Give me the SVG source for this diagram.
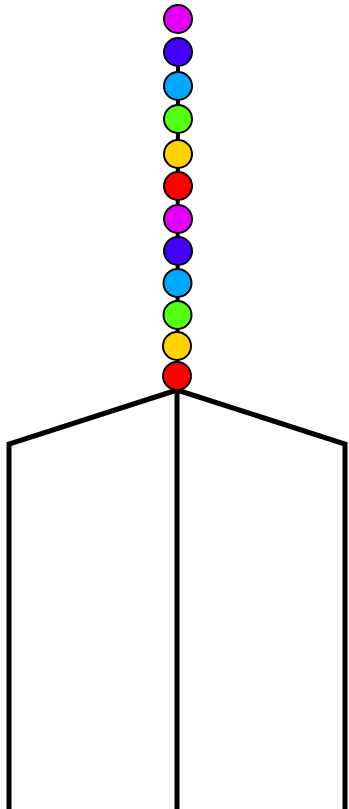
<svg xmlns="http://www.w3.org/2000/svg" width="349" height="809" viewBox="0 0 349 809">
<style>
.n{stroke:#000;stroke-width:2}
.c{stroke:#000;fill:none;stroke-linejoin:miter}
</style>
<rect width="349" height="809" fill="#fff"/>
<g id="connectors">
<line class="c" x1="178" y1="52" x2="177.5" y2="376" stroke-width="4"/>
<line class="c" x1="177" y1="390" x2="177" y2="809" stroke-width="5"/>
<polyline class="c" points="177,390 9,444 9,809" stroke-width="5"/>
<polyline class="c" points="177,390 345,444 345,809" stroke-width="5"/>
</g>
<g id="n1"><circle class="n" cx="178" cy="19" r="14" fill="#e400f8"/></g>
<g id="n2"><circle class="n" cx="178" cy="52" r="14" fill="#4400ff"/></g>
<g id="n3"><circle class="n" cx="178" cy="86" r="14" fill="#00a8ff"/></g>
<g id="n4"><circle class="n" cx="178" cy="119" r="14" fill="#55ff11"/></g>
<g id="n5"><circle class="n" cx="178" cy="154" r="14" fill="#ffd400"/></g>
<g id="n6"><circle class="n" cx="178" cy="186" r="14" fill="#ff0000"/></g>
<g id="n7"><circle class="n" cx="178" cy="219" r="14" fill="#e400f8"/></g>
<g id="n8"><circle class="n" cx="178" cy="251" r="14" fill="#4400ff"/></g>
<g id="n9"><circle class="n" cx="177.5" cy="283" r="14" fill="#00a8ff"/></g>
<g id="n10"><circle class="n" cx="177.5" cy="315" r="14" fill="#55ff11"/></g>
<g id="n11"><circle class="n" cx="177" cy="346" r="14" fill="#ffd400"/></g>
<g id="n12"><circle class="n" cx="177" cy="376" r="14" fill="#ff0000"/></g>
</svg>
